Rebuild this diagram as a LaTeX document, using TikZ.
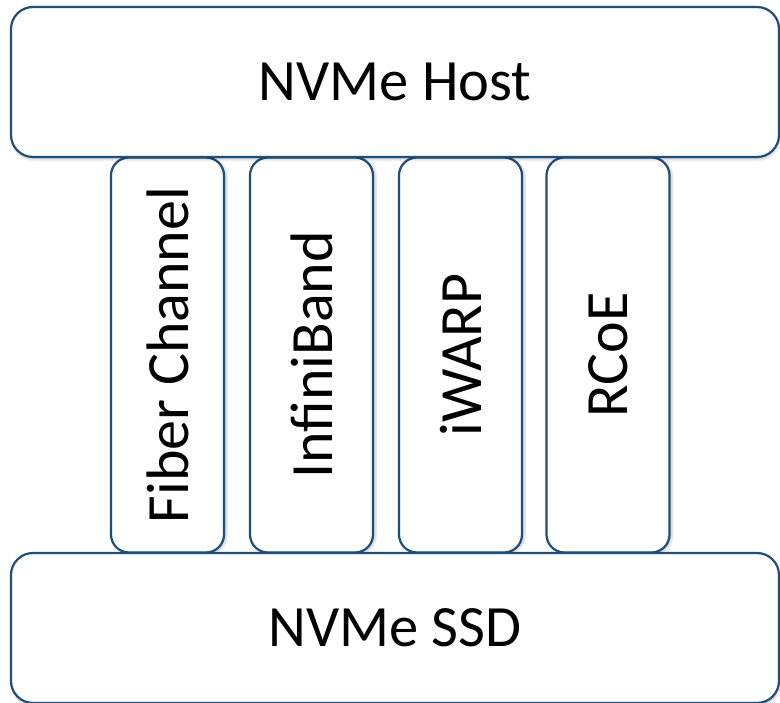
\documentclass[tikz,border=0pt]{standalone}
\usepackage{fontspec}
\setmainfont{Carlito}
\usetikzlibrary{positioning, shadows.blur}
\definecolor{boxblue}{HTML}{1F4E79}

\begin{document}
\begin{tikzpicture}[x=1pt, y=-1pt, line width=2.2pt,
    layer/.style={draw=boxblue, fill=white, rounded corners=22pt, minimum width=768pt, minimum height=150pt,
        inner sep=0pt, font=\fontsize{58.5}{62}\selectfont, blur shadow={shadow blur steps=6, shadow xshift=1pt, shadow yshift=-3pt, shadow opacity=18}},
    fabric/.style={draw=boxblue, fill=white, rounded corners=18pt, rotate=90, minimum width=395pt, minimum height=123pt,
        inner sep=0pt, font=\fontsize{60}{64}\selectfont, blur shadow={shadow blur steps=6, shadow xshift=3pt, shadow yshift=-1pt, shadow opacity=18}}]
    \useasboundingbox (0,0) rectangle (780,703);

    % transport fabrics between host and SSD
    \node[fabric, minimum height=113pt] (fc) at (167.5,355) {Fiber Channel};
    \node[fabric] (ib)    at (311.5,355) {InfiniBand};
    \node[fabric] (iwarp) at (460.5,355) {iWARP};
    \node[fabric] (rcoe)  at (608,355)   {RCoE};

    % host and target
    \node[layer] (host) at (395,82)  {NVMe Host};
    \node[layer] (ssd)  at (395,628) {NVMe SSD};
\end{tikzpicture}
\end{document}
